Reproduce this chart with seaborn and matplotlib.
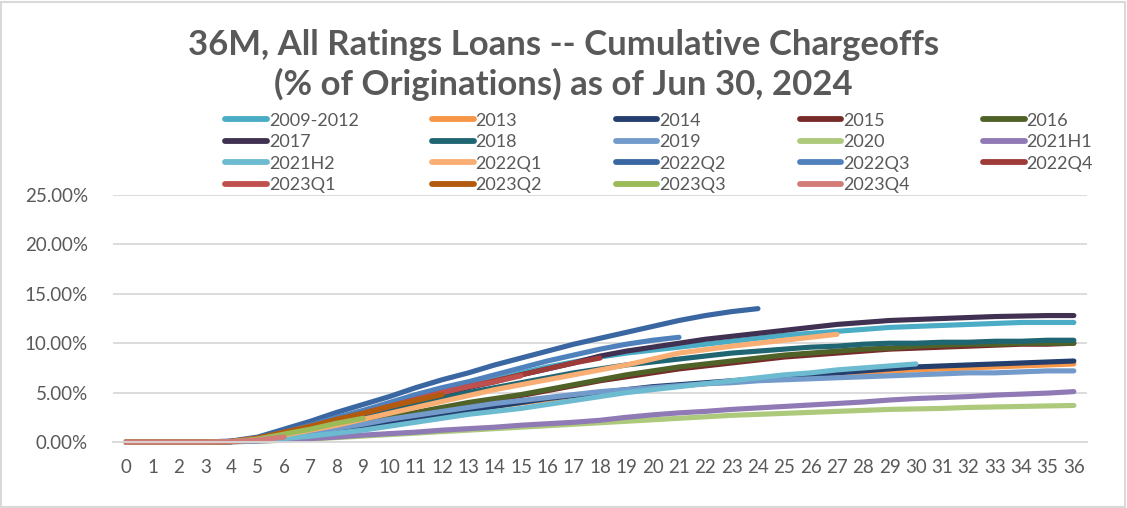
import pandas as pd
import numpy as np
import seaborn as sns
import matplotlib.pyplot as plt
from matplotlib.patches import Rectangle
from matplotlib.ticker import FuncFormatter

# Cumulative chargeoffs (% of originations) by month on book, per vintage
vintages = ['2009-2012', '2013', '2014', '2015', '2016', '2017', '2018', '2019', '2020', '2021H1',
            '2021H2', '2022Q1', '2022Q2', '2022Q3', '2022Q4', '2023Q1', '2023Q2', '2023Q3', '2023Q4']

v2009_2012 = [0, 0, 0, 0, 0.05, 0.4, 0.9, 1.5, 2.1, 2.8, 3.5, 4.2, 4.9, 5.6, 6.3, 7.0, 7.6, 8.1, 8.6, 9.0,
              9.3, 9.6, 9.9, 10.2, 10.5, 10.8, 11.0, 11.2, 11.4, 11.6, 11.7, 11.8, 11.9, 12.0, 12.1, 12.1, 12.1]
v2013 = [0, 0, 0, 0, 0.05, 0.2, 0.5, 0.85, 1.2, 1.6, 2.0, 2.4, 2.8, 3.2, 3.6, 3.95, 4.3, 4.6, 4.9, 5.2,
         5.5, 5.7, 5.9, 6.1, 6.3, 6.5, 6.7, 6.9, 7.0, 7.2, 7.3, 7.4, 7.5, 7.6, 7.7, 7.8, 7.9]
v2014 = [0, 0, 0, 0, 0.05, 0.2, 0.5, 0.85, 1.2, 1.6, 2.0, 2.4, 2.8, 3.2, 3.6, 4.0, 4.4, 4.7, 5.0, 5.3,
         5.6, 5.8, 6.0, 6.2, 6.4, 6.6, 6.8, 7.0, 7.2, 7.4, 7.6, 7.7, 7.8, 7.9, 8.0, 8.1, 8.2]
v2015 = [0, 0, 0, 0, 0.05, 0.25, 0.6, 1.0, 1.4, 1.9, 2.4, 2.9, 3.4, 3.9, 4.3, 4.7, 5.2, 5.7, 6.2, 6.6,
         7.0, 7.4, 7.7, 8.0, 8.3, 8.6, 8.8, 9.0, 9.2, 9.4, 9.5, 9.6, 9.7, 9.8, 9.9, 9.9, 10.0]
v2016 = [0, 0, 0, 0, 0.05, 0.25, 0.6, 1.0, 1.5, 2.0, 2.5, 3.0, 3.5, 4.0, 4.4, 4.8, 5.3, 5.8, 6.3, 6.8,
         7.2, 7.6, 7.9, 8.2, 8.5, 8.8, 9.0, 9.2, 9.4, 9.5, 9.7, 9.8, 9.9, 9.9, 10.0, 10.0, 10.0]
v2017 = [0, 0, 0, 0, 0.05, 0.35, 0.85, 1.4, 2.0, 2.7, 3.4, 4.1, 4.8, 5.5, 6.1, 6.8, 7.4, 8.0, 8.7, 9.2,
         9.6, 10.0, 10.4, 10.7, 11.0, 11.3, 11.6, 11.9, 12.1, 12.3, 12.4, 12.5, 12.6, 12.7, 12.75, 12.8, 12.8]
v2018 = [0, 0, 0, 0, 0.05, 0.35, 0.85, 1.4, 2.0, 2.6, 3.3, 3.9, 4.5, 5.0, 5.5, 6.0, 6.5, 7.0, 7.4, 7.8,
         8.1, 8.4, 8.7, 9.0, 9.2, 9.4, 9.6, 9.7, 9.9, 10.0, 10.0, 10.1, 10.1, 10.2, 10.2, 10.3, 10.3]
v2019 = [0, 0, 0, 0, 0.05, 0.25, 0.6, 1.0, 1.4, 1.8, 2.3, 2.7, 3.1, 3.5, 3.9, 4.2, 4.5, 4.8, 5.1, 5.3,
         5.5, 5.7, 5.9, 6.0, 6.2, 6.3, 6.4, 6.5, 6.6, 6.7, 6.8, 6.9, 7.0, 7.0, 7.1, 7.2, 7.2]
v2020 = [0, 0, 0, 0, 0.02, 0.08, 0.18, 0.3, 0.45, 0.6, 0.75, 0.9, 1.05, 1.2, 1.35, 1.5, 1.65, 1.8, 1.95, 2.1,
         2.25, 2.4, 2.55, 2.7, 2.8, 2.9, 3.0, 3.1, 3.2, 3.3, 3.35, 3.4, 3.5, 3.55, 3.6, 3.65, 3.7]
v2021h1 = [0, 0, 0, 0, 0.02, 0.1, 0.2, 0.35, 0.5, 0.7, 0.85, 1.0, 1.2, 1.35, 1.5, 1.7, 1.85, 2.0, 2.2, 2.5,
           2.75, 2.95, 3.1, 3.3, 3.45, 3.6, 3.75, 3.9, 4.05, 4.25, 4.4, 4.5, 4.6, 4.75, 4.85, 4.95, 5.1]
v2021h2 = [0, 0, 0, 0, 0.03, 0.15, 0.35, 0.6, 0.9, 1.2, 1.6, 2.0, 2.4, 2.8, 3.1, 3.4, 3.8, 4.2, 4.6, 5.0,
           5.3, 5.6, 5.9, 6.2, 6.5, 6.8, 7.0, 7.3, 7.5, 7.7, 7.9]
v2022q1 = [0, 0, 0, 0, 0.05, 0.3, 0.7, 1.2, 1.7, 2.3, 2.9, 3.5, 4.1, 4.7, 5.3, 5.8, 6.3, 6.8, 7.3, 7.8,
           8.4, 9.0, 9.35, 9.7, 10.0, 10.3, 10.6, 10.9]
v2022q2 = [0, 0, 0, 0, 0.1, 0.5, 1.3, 2.1, 3.0, 3.8, 4.6, 5.5, 6.3, 7.0, 7.8, 8.5, 9.2, 9.9, 10.5, 11.1,
           11.7, 12.3, 12.8, 13.2, 13.5]
v2022q3 = [0, 0, 0, 0, 0.05, 0.4, 1.0, 1.7, 2.5, 3.2, 4.0, 4.8, 5.5, 6.1, 6.8, 7.5, 8.2, 8.8, 9.4, 9.9,
           10.3, 10.6]
v2022q4 = [0, 0, 0, 0, 0.05, 0.35, 0.9, 1.5, 2.2, 2.9, 3.6, 4.3, 5.0, 5.6, 6.2, 6.8, 7.4, 8.0, 8.5]
v2023q1 = [0, 0, 0, 0, 0.05, 0.4, 0.9, 1.5, 2.2, 2.9, 3.6, 4.3, 5.0, 5.6, 6.1, 6.7]
v2023q2 = [0, 0, 0, 0, 0.05, 0.4, 1.0, 1.6, 2.3, 2.9, 3.6, 4.2, 4.8]
v2023q3 = [0, 0, 0, 0, 0.05, 0.3, 0.8, 1.3, 1.9, 2.4]
v2023q4 = [0, 0, 0, 0, 0.05, 0.2, 0.5]

series = [v2009_2012, v2013, v2014, v2015, v2016, v2017, v2018, v2019, v2020, v2021h1,
          v2021h2, v2022q1, v2022q2, v2022q3, v2022q4, v2023q1, v2023q2, v2023q3, v2023q4]

colors = ['#4BACC6', '#F79646', '#243F6E', '#772C2A', '#4F6228', '#403152', '#1F6572', '#729ACA',
          '#ADC97C', '#8F7AB5', '#6DBBD1', '#F9AE74', '#3A67A2', '#4F81BD', '#9E3B38', '#C0504D',
          '#B25A0E', '#9BBB59', '#D27B79']
palette = dict(zip(vintages, colors))

rows = []
for name, vals in zip(vintages, series):
    for m, v in enumerate(vals):
        rows.append({'month': m, 'value': v, 'vintage': name})
df = pd.DataFrame(rows)

grey = '#595959'
sns.set_style('white')
plt.rcParams['font.family'] = ['Lato', 'DejaVu Sans']

fig = plt.figure(figsize=(11.27, 5.08), dpi=100)
ax = fig.add_axes([0.1003, 0.1299, 0.8642, 0.4862])

sns.lineplot(data=df, x='month', y='value', hue='vintage', hue_order=vintages,
             palette=palette, linewidth=3.7, ax=ax, legend=True, solid_capstyle='round')
for ln in ax.get_lines():
    ln.set_clip_on(False)

ax.set_xlim(-0.5, 36.5)
ax.set_ylim(0, 25)
ax.set_xticks(range(37))
ax.set_yticks(np.arange(0, 26, 5))
ax.yaxis.set_major_formatter(FuncFormatter(lambda v, p: f'{v:.2f}%'))
ax.grid(axis='y', color='#D9D9D9', linewidth=1.3)
ax.set_axisbelow(True)
for s in ['top', 'right', 'left']:
    ax.spines[s].set_visible(False)
ax.spines['bottom'].set_color('#D9D9D9')
ax.spines['bottom'].set_linewidth(1.3)
ax.tick_params(axis='both', length=0, labelsize=13.5, labelcolor=grey)
ax.tick_params(axis='x', pad=12)
ax.tick_params(axis='y', pad=18)
ax.set_xlabel('')
ax.set_ylabel('')

# legend filled row by row, 5 columns
handles, labels = ax.get_legend_handles_labels()
ax.get_legend().remove()
order = [r * 5 + c for c in range(5) for r in range(4) if r * 5 + c < len(labels)]
leg = fig.legend([handles[i] for i in order], [labels[i] for i in order], ncol=5, loc='lower left',
                 bbox_to_anchor=(0.200, 0.620, 0.77, 0.18), mode='expand',
                 frameon=False, fontsize=13, handlelength=2.3, handletextpad=0.1,
                 labelspacing=0.3, borderaxespad=0, borderpad=0)
for t in leg.get_texts():
    t.set_color(grey)
for h in leg.get_lines():
    h.set_linewidth(4.2)

fig.text(0.5, 0.912, '36M, All Ratings Loans -- Cumulative Chargeoffs', ha='center', va='center',
         fontsize=25, fontweight='bold', color=grey)
fig.text(0.5, 0.833, '(% of Originations) as of Jun 30, 2024', ha='center', va='center',
         fontsize=25, fontweight='bold', color=grey)

fig.patches.append(Rectangle((0.001, 0.002), 0.997, 0.995, transform=fig.transFigure,
                             fill=False, edgecolor='#D9D9D9', linewidth=1.5))

fig.savefig('out.png', dpi=100)
